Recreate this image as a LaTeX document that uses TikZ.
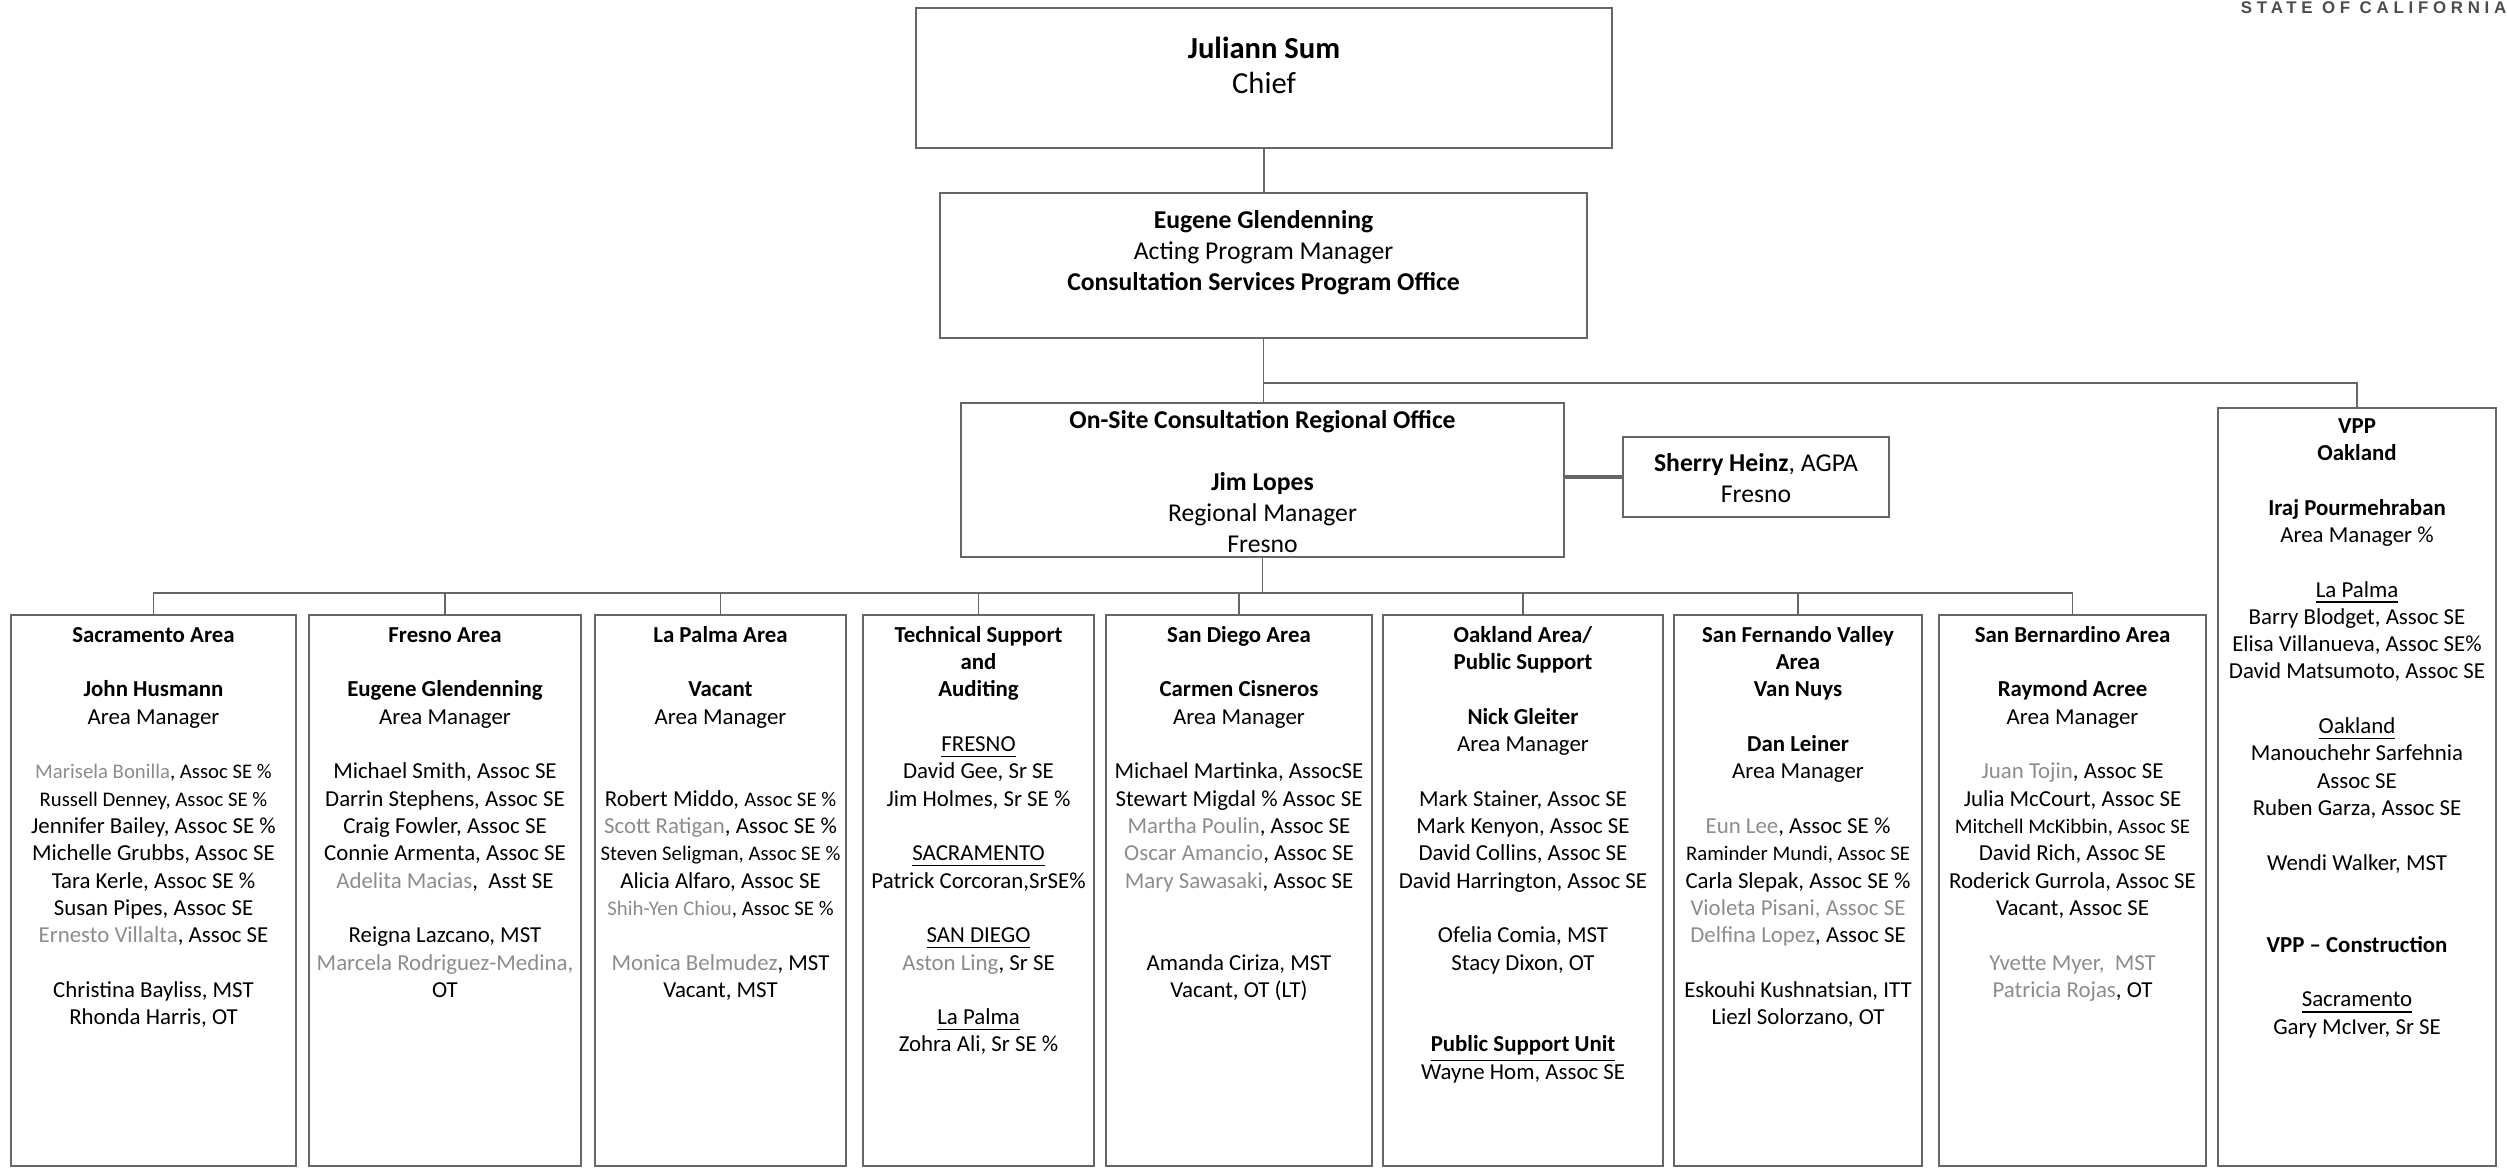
\documentclass[tikz,border=0pt]{standalone}
\usepackage{fontspec}
\setmainfont{Carlito}
\newfontfamily\statefont[LetterSpace=28]{Liberation Sans}
\usetikzlibrary{positioning}
\newcommand{\gy}[1]{\textcolor{black!45}{#1}}
\newcommand{\sm}{\fontsize{5.9}{7.77}\selectfont}

\begin{document}
\begin{tikzpicture}[x=0.01cm,y=-0.01cm,
topbox/.style={rectangle,draw=black!60,line width=0.5pt,inner sep=0pt},
areabox/.style={rectangle,draw=black!60,line width=0.5pt,inner sep=0pt,minimum height=5.51cm},
toptext/.style={align=center,inner sep=0pt,font=\fontsize{7.3}{8.82}\selectfont},
areatext/.style={align=center,inner sep=0pt,font=\fontsize{6.5}{7.77}\selectfont},
link/.style={draw=black!60,line width=0.45pt},
]
\useasboundingbox (0,0) rectangle (2507,1172);

% Kopf
\node[anchor=north east,inner sep=0pt,text=black!70,font=\statefont\bfseries\fontsize{4.8}{5}\selectfont] (state) at (2507,1) {STATE OF CALIFORNIA};

\node[topbox,minimum width=6.96cm,minimum height=1.40cm] (chief) at (1264,78) {};
\node[toptext,font=\fontsize{8.7}{9.96}\selectfont,below=0.264cm of chief.north] (chieftext) {\strut\textbf{Juliann Sum}\\Chief};

\node[topbox,minimum width=6.47cm,minimum height=1.45cm] (program) at (1263.5,265.5) {};
\node[toptext,below=0.136cm of program.north] (programtext) {\strut\textbf{Eugene Glendenning}\\Acting Program Manager\\\textbf{Consultation Services Program Office}};

\node[topbox,minimum width=6.03cm,minimum height=1.54cm] (regional) at (1262.5,480) {};
\node[toptext,below=0.036cm of regional.north] (regionaltext) {\strut\textbf{On-Site Consultation Regional Office}\\~\\\textbf{Jim Lopes}\\Regional Manager\\Fresno};

\node[topbox,minimum width=2.66cm,minimum height=0.80cm] (sherry) at (1756,477) {};
\node[toptext,below=0.126cm of sherry.north] (sherrytext) {\strut\textbf{Sherry Heinz}, AGPA\\Fresno};

% Bereiche
\node[areabox,minimum width=2.85cm] (sac) at (153.5,890.5) {};
\node[areabox,minimum width=2.72cm] (fresno) at (445,890.5) {};
\node[areabox,minimum width=2.51cm] (lapalma) at (720.5,890.5) {};
\node[areabox,minimum width=2.31cm] (tech) at (978.5,890.5) {};
\node[areabox,minimum width=2.66cm] (sandiego) at (1239,890.5) {};
\node[areabox,minimum width=2.80cm] (oakland) at (1523,890.5) {};
\node[areabox,minimum width=2.48cm] (sfv) at (1798,890.5) {};
\node[areabox,minimum width=2.67cm] (sanbern) at (2072.5,890.5) {};
\node[areabox,minimum width=2.78cm,minimum height=7.58cm] (vpp) at (2357,787) {};

\node[areatext,below=0.083cm of sac.north] (sactext) {\strut\textbf{Sacramento Area}\\~\\
\textbf{John Husmann}\\Area Manager\\~\\
{\sm\gy{Marisela Bonilla}, Assoc SE \%}\\
{\sm Russell Denney, Assoc SE \%}\\
Jennifer Bailey, Assoc SE \%\\
Michelle Grubbs, Assoc SE\\
Tara Kerle, Assoc SE \%\\
Susan Pipes, Assoc SE\\
\gy{Ernesto Villalta}, Assoc SE\\~\\
Christina Bayliss, MST\\
Rhonda Harris, OT};

\node[areatext,below=0.083cm of fresno.north] (fresnotext) {\strut\textbf{Fresno Area}\\~\\
\textbf{Eugene Glendenning}\\Area Manager\\~\\
Michael Smith, Assoc SE\\
Darrin Stephens, Assoc SE\\
Craig Fowler, Assoc SE\\
Connie Armenta, Assoc SE\\
\gy{Adelita Macias}, \ Asst SE\\~\\
Reigna Lazcano, MST\\
\gy{Marcela Rodriguez-Medina,}\\
OT};

\node[areatext,below=0.083cm of lapalma.north] (lapalmatext) {\strut\textbf{La Palma Area}\\~\\
\textbf{Vacant}\\Area Manager\\~\\~\\
Robert Middo, {\sm Assoc SE \%}\\
\gy{Scott Ratigan}, Assoc SE \%\\
{\sm Steven Seligman, Assoc SE \%}\\
Alicia Alfaro, Assoc SE\\
{\sm\gy{Shih-Yen Chiou}, Assoc SE \%}\\~\\
\gy{Monica Belmudez}, MST\\
Vacant, MST};

\node[areatext,below=0.083cm of tech.north] (techtext) {\strut\textbf{Technical Support}\\\textbf{and}\\\textbf{Auditing}\\~\\
\underline{FRESNO}\\
David Gee, Sr SE\\
Jim Holmes, Sr SE \%\\~\\
\underline{SACRAMENTO}\\
Patrick Corcoran,SrSE\%\\~\\
\underline{SAN DIEGO}\\
\gy{Aston Ling}, Sr SE\\~\\
\underline{La Palma}\\
Zohra Ali, Sr SE \%};

\node[areatext,below=0.083cm of sandiego.north] (sandiegotext) {\strut\textbf{San Diego Area}\\~\\
\textbf{Carmen Cisneros}\\Area Manager\\~\\
Michael Martinka, AssocSE\\
Stewart Migdal \% Assoc SE\\
\gy{Martha Poulin}, Assoc SE\\
\gy{Oscar Amancio}, Assoc SE\\
\gy{Mary Sawasaki}, Assoc SE\\~\\~\\
Amanda Ciriza, MST\\
Vacant, OT (LT)};

\node[areatext,below=0.083cm of oakland.north] (oaklandtext) {\strut\textbf{Oakland Area/}\\\textbf{Public Support}\\~\\
\textbf{Nick Gleiter}\\Area Manager\\~\\
Mark Stainer, Assoc SE\\
Mark Kenyon, Assoc SE\\
David Collins, Assoc SE\\
David Harrington, Assoc SE\\~\\
Ofelia Comia, MST\\
Stacy Dixon, OT\\~\\~\\
\underline{\textbf{Public Support Unit}}\\
Wayne Hom, Assoc SE};

\node[areatext,below=0.083cm of sfv.north] (sfvtext) {\strut\textbf{San Fernando Valley}\\\textbf{Area}\\\textbf{Van Nuys}\\~\\
\textbf{Dan Leiner}\\Area Manager\\~\\
\gy{Eun Lee}, Assoc SE \%\\
{\sm Raminder Mundi, Assoc SE}\\
Carla Slepak, Assoc SE \%\\
\gy{Violeta Pisani, Assoc SE}\\
\gy{Delfina Lopez}, Assoc SE\\~\\
Eskouhi Kushnatsian, ITT\\
Liezl Solorzano, OT};

\node[areatext,below=0.083cm of sanbern.north] (sanberntext) {\strut\textbf{San Bernardino Area}\\~\\
\textbf{Raymond Acree}\\Area Manager\\~\\
\gy{Juan Tojin}, Assoc SE\\
Julia McCourt, Assoc SE\\
{\sm Mitchell McKibbin, Assoc SE}\\
David Rich, Assoc SE\\
Roderick Gurrola, Assoc SE\\
Vacant, Assoc SE\\~\\
\gy{Yvette Myer, \ MST}\\
\gy{Patricia Rojas}, OT};

\node[areatext,below=0.063cm of vpp.north] (vpptext) {\strut\textbf{VPP}\\\textbf{Oakland}\\~\\
\textbf{Iraj Pourmehraban}\\Area Manager \%\\~\\
\underline{La Palma}\\
Barry Blodget, Assoc SE\\
Elisa Villanueva, Assoc SE\%\\
David Matsumoto, Assoc SE\\~\\
\underline{Oakland}\\
Manouchehr Sarfehnia\\
Assoc SE\\
Ruben Garza, Assoc SE\\~\\
Wendi Walker, MST\\~\\~\\
\textbf{VPP -- Construction}\\~\\
\underline{Sacramento}\\
Gary McIver, Sr SE};

% Verbindungen
\coordinate (vppjoin) at (1264,383);
\coordinate (bus) at (1264,593);
\draw[link] (chief.south) -- (chief.south |- program.north);
\draw[link] (program.south) -- (program.south |- regional.north);
\draw[link] (vppjoin) -| (vpp.north);
\draw[link,line width=1pt] (sherry.west) -- (sherry.west -| regional.east);
\draw[link] (regional.south) -- (regional.south |- bus);
\draw[link] (sac.north) |- (bus) -| (sanbern.north);
\foreach \b in {fresno,lapalma,tech,sandiego,oakland,sfv}
  \draw[link] (\b.north) -- (\b.north |- bus);

\end{tikzpicture}
\end{document}
